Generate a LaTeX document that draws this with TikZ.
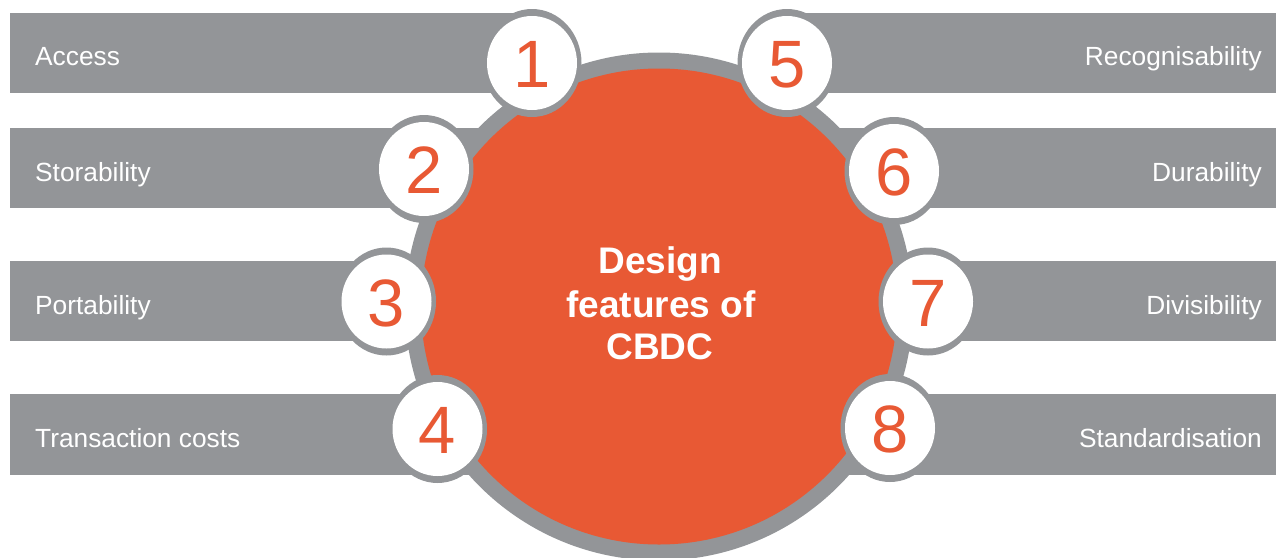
\documentclass[tikz,border=0pt]{standalone}
\usepackage{fontspec}
\setmainfont{Liberation Sans}
\definecolor{cbdcorange}{RGB}{232,89,52}
\definecolor{cbdcgray}{RGB}{147,149,152}
\begin{document}
\begin{tikzpicture}[x=1pt,y=-1pt,
  lbl/.style={text=white, font=\fontsize{26.3}{30}\selectfont, inner sep=0pt},
  num/.style={text=cbdcorange, font=\fontsize{67}{70}\selectfont, inner sep=0pt, anchor=base},
  ctr/.style={text=white, font=\bfseries\fontsize{37}{43}\selectfont, inner sep=0pt, anchor=base}]
\useasboundingbox (0,0) rectangle (1276,557);
% bars
\fill[cbdcgray] (10,13) rectangle (532,93);
\fill[cbdcgray] (10,128) rectangle (659,208);
\fill[cbdcgray] (10,261) rectangle (659,341);
\fill[cbdcgray] (10,394) rectangle (659,475);
\fill[cbdcgray] (787,13) rectangle (1276,93);
\fill[cbdcgray] (659,128) rectangle (1276,208);
\fill[cbdcgray] (659,261) rectangle (1276,341);
\fill[cbdcgray] (659,394) rectangle (1276,475);
% big circle
\fill[cbdcgray] (659,306.5) circle [radius=254pt];
\fill[cbdcorange] (659,306.5) circle [radius=238pt];
% small circles
\foreach \p in {(532,63),(424,169),(386.5,301.5),(437.5,429),(787,63),(894,171),(928,301.5),(890,428)}{
  \fill[cbdcgray] \p ellipse [x radius=49.5pt, y radius=54pt];
  \fill[white] \p ellipse [x radius=45pt, y radius=47pt];
}
% digits
\node[num] (n1) at (532,87.5) {1};
\node[num] (n2) at (424,193.5) {2};
\node[num] (n3) at (386.5,326) {3};
\node[num] (n4) at (437.5,453.5) {4};
\node[num] (n5) at (787,87.5) {5};
\node[num] (n6) at (894,195.5) {6};
\node[num] (n7) at (928,326) {7};
\node[num] (n8) at (890,452.5) {8};
% labels
\node[lbl, anchor=base west] (l1) at (35,65) {Access};
\node[lbl, anchor=base west] (l2) at (35,181) {Storability};
\node[lbl, anchor=base west] (l3) at (35,314) {Portability};
\node[lbl, anchor=base west] (l4) at (35,447.5) {Transaction costs};
\node[lbl, anchor=base east] (l5) at (1262,65) {Recognisability};
\node[lbl, anchor=base east] (l6) at (1262,181) {Durability};
\node[lbl, anchor=base east] (l7) at (1262,314) {Divisibility};
\node[lbl, anchor=base east] (l8) at (1262,447.5) {Standardisation};
% centre text
\node[ctr] (c1) at (660,273) {Design};
\node[ctr] (c2) at (661,317) {features of};
\node[ctr] (c3) at (660,359) {CBDC};
\end{tikzpicture}
\end{document}
